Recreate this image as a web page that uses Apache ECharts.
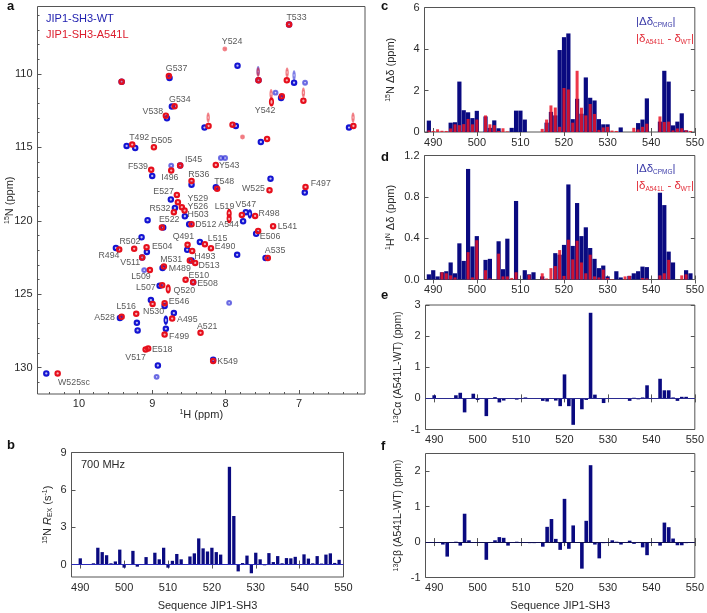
<!DOCTYPE html>
<html>
<head>
<meta charset="utf-8">
<style>html,body{margin:0;padding:0;background:#fff}#c{width:707px;height:613px}</style>
<script src="https://cdn.jsdelivr.net/npm/echarts@6/dist/echarts.min.js"></script>
</head>
<body>
<div id="c"></div>
<script>
// ---- panel a : peak positions [1H ppm, 15N ppm]
const wtPeaks = [[9.418,110.52],[8.765,110.27],[8.733,112.22],[8.80,113.02],[9.35,114.9],[9.233,115.04],[8.62,116.24],[9.001,116.94],
[8.747,118.55],[8.692,119.12],[8.556,119.69],[9.064,119.96],[8.497,120.23],[8.851,120.46],[9.146,121.12],[9.496,121.85],[9.074,122.12],
[9.138,122.5],[8.524,121.98],[8.86,123.21],[8.90,124.43],[9.019,125.4],[8.832,125.81],[8.706,126.29],[9.441,126.63],[9.21,126.95],
[9.2,127.47],[8.815,127.36],[8.924,129.86],[10.445,130.4],[7.135,106.62],[7.838,109.43],[7.552,110.43],[7.067,110.59],[7.244,111.63],
[8.288,113.65],[7.861,113.54],[7.52,114.63],[6.318,113.65],[7.388,117.13],[6.921,118.08],[8.134,117.71],[8.465,117.54],[7.725,119.41],
[7.762,120.03],[7.584,120.89],[8.351,121.44],[7.843,122.32],[7.456,122.53],[8.443,124.18],[8.17,129.47],[8.465,122.71]];
const mutPeaks = [[9.418,110.52],[8.774,110.14],[8.696,112.2],[8.815,112.84],[9.274,114.81],[8.978,114.99],[8.62,116.24],[8.742,116.58],
[9.015,116.53],[8.665,118.24],[8.651,118.73],[8.597,119.07],[8.706,119.41],[8.56,119.3],[8.465,120.23],[8.869,120.46],[9.451,121.96],
[9.247,121.91],[9.078,121.8],[9.138,122.5],[8.519,121.64],[8.488,122.71],[8.842,123.12],[9.033,123.36],[8.546,124.02],[8.865,124.39],
[8.996,125.66],[8.832,125.62],[9.219,126.34],[9.418,126.54],[8.729,126.66],[8.832,127.75],[9.056,128.7],[9.091,128.77],[10.29,130.4],
[7.135,106.62],[7.552,110.43],[7.166,110.43],[7.234,111.52],[6.94,111.82],[8.233,113.54],[7.906,113.45],[7.435,114.42],[6.258,113.54],
[8.134,116.2],[7.402,117.92],[6.911,117.69],[8.116,117.81],[8.465,117.28],[7.779,119.6],[7.598,119.67],[7.353,120.37],[7.557,120.69],
[8.283,121.59],[8.2,121.87],[8.456,122.05],[7.425,122.53],[8.415,122.87],[8.443,124.18],[8.342,127.63],[8.17,129.56]];
const wtLongPeaks = [[8.815,126.77],[7.67,119.53]];
const mutLongPeaks = [[7.952,119.5],[7.952,119.85],[8.783,124.64],[7.375,111.9]];
const wtWeakPeaks = [[8.742,116.24],[8.065,115.72],[8.007,115.72],[6.917,110.59],[7.32,111.27],[7.952,125.59],[8.941,130.63],[9.11,123.36]];
const mutWeakPeaks = [[8.011,108.3],[7.77,114.29]];
const wtFaintLong = [[7.067,110.09],[7.557,109.8]];
const mutFaintLong = [[7.557,109.88],[7.162,109.9],[7.38,111.36],[6.94,111.27],[8.238,112.97],[6.263,112.97]];
const peakLabels = [['T533',7.034,106.17],['Y524',7.912,107.82],['G537',8.669,109.66],['G534',8.624,111.72],['V538',8.992,112.57],
['T492',9.178,114.36],['D505',8.873,114.51],['I545',8.437,115.85],['F539',9.196,116.31],['Y543',7.952,116.24],['I496',8.76,117.06],
['R536',8.365,116.83],['T548',8.02,117.33],['W525',7.62,117.78],['F497',6.703,117.47],['E527',8.846,118.03],['Y529',8.379,118.5],
['Y526',8.379,119.05],['R532',8.896,119.19],['H503',8.375,119.58],['E522',8.77,119.94],['L519',8.015,119.03],['V547',7.725,118.92],
['R498',7.407,119.48],['D512',8.27,120.28],['A544',7.96,120.28],['L541',7.157,120.37],['E506',7.394,121.05],['Q491',8.576,121.08],
['L515',8.11,121.18],['E490',8.007,121.78],['A535',7.326,122.05],['R502',9.305,121.44],['E504',8.865,121.78],['R494',9.591,122.39],
['H493',8.283,122.44],['V511',9.301,122.82],['M531',8.742,122.66],['D513',8.225,123.02],['M489',8.624,123.23],['L509',9.155,123.82],
['E510',8.365,123.75],['E508',8.247,124.25],['L507',9.087,124.57],['Q520',8.563,124.75],['E546',8.634,125.47],['L516',9.356,125.86],
['N530',8.982,126.2],['A528',9.65,126.59],['A495',8.522,126.7],['A521',8.252,127.18],['F499',8.634,127.86],['E518',8.865,128.74],
['V517',9.228,129.29],['K549',7.974,129.6],['W525sc',10.068,130.99],['Y542',7.462,112.52]];
const hTicks = [7,8,9,10];
const nTicks = [110,115,120,125,130];
const hMinor = [6.2,6.4,6.6,6.8,7.2,7.4,7.6,7.8,8.2,8.4,8.6,8.8,9.2,9.4,9.6,9.8,10.2,10.4];
const nMinor = [106,107,108,109,111,112,113,114,116,117,118,119,121,122,123,124,126,127,128,129,131];

// ---- panel b : 15N Rex
const resB = [490,491,493,494,495,496,497,498,499,500,502,503,505,506,507,508,509,510,511,512,513,515,516,517,518,519,520,521,522,524,525,526,527,528,529,530,531,532,533,534,535,536,537,538,539,541,542,543,544,545,546,547,548,549];
const rexB = [0.5,0.03,0.1,1.35,1.0,0.75,0.1,0.25,1.2,-0.25,1.1,-0.17,0.6,0.02,0.95,0.42,1.35,-0.25,0.3,0.85,0.42,0.65,0.9,2.1,1.3,1.05,1.35,1.0,0.8,7.85,3.9,-0.55,0.12,0.72,-0.7,0.95,0.42,-0.06,0.92,0.2,0.68,0.1,0.52,0.5,0.62,0.82,0.48,0.1,0.68,0.08,0.8,0.9,0.13,0.38];

// ---- panel c : 15N shift differences
const resCBlue = [489,494,495,496,497,498,499,500,502,503,504,505,508,509,510,511,516,517,518,519,520,521,522,523,524,525,526,527,528,529,530,533,537,538,539,542,543,544,545,546,547,548];
const cpmgC = [0.55,0.45,0.47,2.43,1.05,0.95,0.67,1.02,0.75,0.2,0.56,0.18,0.2,1.03,1.03,0.6,0.45,0.97,0.8,3.95,4.57,4.75,0.62,1.6,0.88,2.63,1.65,1.52,0.62,0.37,0.37,0.22,0.43,0.6,1.62,0.5,2.95,2.43,0.32,0.5,0.9,0.08];
const resCRed = [489,490,491,492,493,494,495,496,497,498,499,500,502,503,504,505,506,507,515,516,517,518,519,520,521,522,523,524,525,526,527,528,529,530,531,532,536,537,538,539,542,543,544,545,546,547,548,549];
const diffC = [0.08,0.05,0.13,0.06,0.05,0.17,0.37,0.33,0.38,0.63,0.37,0.6,0.8,0.37,0.33,0.05,0.18,0.03,0.15,0.6,1.28,1.18,0.25,2.12,2.05,0.45,2.95,1.17,0.8,1.35,0.87,0.1,0.22,0.25,0.07,0.05,0.2,0.12,0.25,0.4,0.75,0.48,0.5,0.08,0.17,0.18,0.08,0.05];

// ---- panel d : 1HN shift differences
const resDBlue = [489,490,491,492,493,494,495,496,497,498,499,500,502,503,505,506,507,509,511,512,513,515,518,519,520,521,522,523,524,525,526,527,528,529,530,532,533,535,536,537,538,539,542,543,544,545,548,549];
const cpmgD = [0.05,0.09,0.03,0.07,0.08,0.165,0.06,0.35,0.18,1.07,0.32,0.42,0.19,0.2,0.37,0.1,0.395,0.76,0.09,0.05,0.07,0.03,0.255,0.24,0.335,0.92,0.325,0.74,0.42,0.505,0.305,0.2,0.11,0.135,0.03,0.08,0.02,0.035,0.06,0.08,0.125,0.12,0.84,0.72,0.27,0.165,0.09,0.06];
const resDRed = [492,493,494,495,498,499,500,502,503,505,506,507,508,509,512,515,516,517,518,519,520,521,522,523,524,525,526,527,528,529,530,531,534,535,538,539,542,543,544,547,548];
const diffD = [0.07,0.06,0.04,0.02,0.265,0.02,0.38,0.09,0.01,0.25,0.03,0.03,0.015,0.07,0.045,0.06,0.01,0.11,0.13,0.285,0.035,0.385,0.195,0.375,0.165,0.06,0.24,0.03,0.02,0.095,0.015,0.005,0.03,0.035,0.015,0.01,0.04,0.06,0.19,0.04,0.05];

// ---- panel e : 13C alpha
const resE = [490,491,492,493,494,495,496,497,499,500,502,504,505,506,509,511,513,515,516,518,519,520,521,522,524,525,526,527,529,530,531,535,536,537,538,539,542,543,544,545,546,547,548,549];
const caE = [0.1,-0.02,-0.02,0.01,0.01,0.1,0.18,-0.45,0.15,-0.05,-0.57,0.04,-0.13,-0.07,-0.04,0.03,-0.01,-0.08,-0.1,-0.07,-0.25,0.77,-0.25,-0.85,-0.35,-0.05,2.75,0.12,-0.15,-0.01,-0.01,-0.08,0.02,-0.03,0.03,0.42,0.63,0.26,0.26,0.03,-0.08,0.05,0.05,-0.02];

// ---- panel f : 13C beta
const resF = [492,493,495,496,497,498,502,503,504,505,506,507,508,509,510,512,513,515,516,517,518,519,520,521,522,524,525,526,527,528,529,530,531,532,533,535,536,538,539,542,543,544,545,546,547,548,549];
const cbF = [-0.07,-0.41,0.01,-0.1,0.8,0.05,-0.5,-0.02,0.05,0.14,0.12,-0.1,-0.02,0.01,-0.02,-0.03,-0.03,-0.13,0.43,0.65,0.09,-0.22,1.22,-0.19,0.47,-0.75,0.6,2.17,-0.07,-0.46,-0.03,-0.02,0.05,0.01,-0.07,0.04,-0.05,-0.15,-0.37,-0.1,0.55,0.42,0.1,-0.09,-0.09,-0.03,-0.01];

const seqTicks = [490,500,510,520,530,540,550];
const ticksB = [0,3,6,9], ticksC = [0,2,4,6], ticksD = [0,0.4,0.8,1.2], ticksE = [-1,0,1,2,3], ticksF = [-1,0,1,2];

// ---- styling and assembly
const FONT = '"Liberation Sans", Arial, sans-serif';
const NAVY = '#0a0a80', BORDER = '#555', TXT = '#2a2a2a';
const BLUE = '#1414d2', RED = '#e60f1c';
const BLUE_FILL = 'rgba(40,40,220,0.3)', RED_FILL = 'rgba(235,30,40,0.35)';
const zip = (a, b) => a.map((v, i) => [v, b[i]]);

const richName = {
  sup: {fontSize: 7, lineHeight: 12, verticalAlign: 'top', fontFamily: FONT, color: TXT, padding: [0,0,3,0]},
  sub: {fontSize: 7, lineHeight: 12, verticalAlign: 'bottom', fontFamily: FONT, color: TXT, padding: [3,0,0,0]},
  it: {fontSize: 11, lineHeight: 12, fontStyle: 'italic', fontFamily: FONT, color: TXT},
  n: {fontSize: 11, lineHeight: 12, fontFamily: FONT, color: TXT},
  s: {fontSize: 10.5, lineHeight: 12, fontFamily: FONT, color: TXT}
};

const grids = [], xAxes = [], yAxes = [], series = [];

function addScatter(name, data, color, fill, size, opacity) {
  series.push({
    name, type: 'scatter', xAxisIndex: 0, yAxisIndex: 0, data, symbol: 'circle', symbolSize: size, silent: true,
    itemStyle: {color: fill, borderColor: color, borderWidth: 2.1, opacity}
  });
}

// panel a
grids.push({left: 37.5, top: 6.5, width: 327.5, height: 387.5, show: true, borderColor: BORDER, borderWidth: 1, backgroundColor: 'transparent'});
const xA = {type: 'value', gridIndex: 0, inverse: true, min: 6.1, max: 10.565, position: 'bottom', splitLine: {show: false}, axisLine: {show: false}};
const yA = {type: 'value', gridIndex: 0, inverse: true, min: 105.4, max: 131.8, position: 'left', splitLine: {show: false}, axisLine: {show: false}};
xAxes.push(Object.assign({}, xA, {
  name: '{sup|1}{n|H (ppm)}', nameLocation: 'middle', nameGap: 15, nameMoveOverlap: false, nameTextStyle: {rich: richName},
  axisTick: {show: true, inside: true, length: 4, lineStyle: {color: BORDER}, customValues: hTicks},
  axisLabel: {show: true, margin: 4, fontSize: 11, color: TXT, fontFamily: FONT, customValues: hTicks}
}));
xAxes.push(Object.assign({}, xA, {
  axisTick: {show: true, inside: true, length: 2, lineStyle: {color: BORDER}, customValues: hMinor}, axisLabel: {show: false}
}));
yAxes.push(Object.assign({}, yA, {
  name: '{sup|15}{n|N (ppm)}', nameLocation: 'middle', nameGap: 22, nameMoveOverlap: false, nameRotate: 90, nameTextStyle: {rich: richName},
  axisTick: {show: true, inside: true, length: 4, lineStyle: {color: BORDER}, customValues: nTicks},
  axisLabel: {show: true, margin: 5, fontSize: 11, color: TXT, fontFamily: FONT, customValues: nTicks}
}));
yAxes.push(Object.assign({}, yA, {
  axisTick: {show: true, inside: true, length: 2, lineStyle: {color: BORDER}, customValues: nMinor}, axisLabel: {show: false}
}));
addScatter('WT faint long', wtFaintLong, BLUE, BLUE_FILL, [2.2, 6.5], 0.5);
addScatter('A541L faint long', mutFaintLong, RED, RED_FILL, [2.2, 6.5], 0.5);
addScatter('WT weak', wtWeakPeaks, BLUE, BLUE_FILL, 3.8, 0.6);
addScatter('A541L weak', mutWeakPeaks, RED, RED_FILL, 2.8, 0.5);
addScatter('WT', wtPeaks, BLUE, BLUE_FILL, 4.4, 1);
addScatter('WT long', wtLongPeaks, BLUE, BLUE_FILL, [3.2, 6.5], 1);
addScatter('A541L', mutPeaks, RED, RED_FILL, 4.4, 1);
addScatter('A541L long', mutLongPeaks, RED, RED_FILL, [3.6, 6.5], 1);
series.push({
  type: 'scatter', xAxisIndex: 0, yAxisIndex: 0, symbolSize: 0, silent: true,
  data: peakLabels.map(l => ({value: [l[1], l[2]], name: l[0]})),
  label: {show: true, position: 'inside', formatter: p => p.name, fontSize: 8.8, color: '#2e2e2e', fontFamily: FONT}
});

function barPanel(o) {
  const g = grids.length;
  grids.push({left: o.left, top: o.top, width: o.width, height: o.height, show: true, borderColor: BORDER, borderWidth: 1, backgroundColor: 'transparent'});
  const tick = vals => ({show: true, inside: true, length: 4, lineStyle: {color: BORDER}, customValues: vals});
  const xi = xAxes.length, yi = yAxes.length;
  const xb = {type: 'value', gridIndex: g, min: 488, max: 550, splitLine: {show: false}, axisLine: {show: false}};
  const yb = {type: 'value', gridIndex: g, min: o.ymin, max: o.ymax, splitLine: {show: false}, axisLine: {show: false}};
  const x0 = Object.assign({}, xb, {position: 'bottom', axisTick: tick(seqTicks),
    axisLabel: {show: true, margin: 5, fontSize: 11, color: TXT, fontFamily: FONT, customValues: seqTicks}});
  if (o.xName) Object.assign(x0, {name: o.xName, nameLocation: 'middle', nameGap: 23, nameMoveOverlap: false, nameTextStyle: {fontSize: 11, color: TXT, fontFamily: FONT}});
  xAxes.push(x0);
  xAxes.push(Object.assign({}, xb, {position: 'top', axisTick: tick(seqTicks), axisLabel: {show: false}}));
  yAxes.push(Object.assign({}, yb, {position: 'left', axisTick: tick(o.ticks),
    name: o.yName, nameLocation: 'middle', nameGap: o.nameGap, nameMoveOverlap: false, nameRotate: 90, nameTextStyle: {rich: richName},
    axisLabel: {show: true, margin: 5, fontSize: 11, color: TXT, fontFamily: FONT, customValues: o.ticks, formatter: o.fmt || (v => String(v))}}));
  yAxes.push(Object.assign({}, yb, {position: 'right', axisTick: tick(o.ticks), axisLabel: {show: false}}));
  o.sets.forEach((s, k) => {
    series.push({
      type: 'bar', xAxisIndex: xi + k, yAxisIndex: yi + k, data: s.data, barWidth: s.width, silent: true,
      itemStyle: {color: s.color},
      markLine: s.zero ? {silent: true, symbol: 'none', label: {show: false}, animation: false,
        lineStyle: {type: 'solid', width: 1, color: s.zero}, data: [{yAxis: 0}]} : undefined
    });
  });
}

barPanel({left: 71.5, top: 452.5, width: 272, height: 124.5, ymin: -1, ymax: 9, ticks: ticksB, nameGap: 18,
  yName: '{sup|15}{n|N }{it|R}{sub|EX}{n| (s}{sup|-1}{n|)}', xName: 'Sequence JIP1-SH3',
  sets: [{data: zip(resB, rexB), width: 3.3, color: NAVY, zero: '#2a2ab8'}]});
barPanel({left: 424.5, top: 7.5, width: 271, height: 124.5, ymin: 0, ymax: 6, ticks: ticksC, nameGap: 28,
  yName: '{sup|15}{n|N Δδ (ppm)}',
  sets: [{data: zip(resCBlue, cpmgC), width: 4.2, color: NAVY},
         {data: zip(resCRed, diffC), width: 3, color: 'rgba(235,20,40,0.85)'}]});
barPanel({left: 424.5, top: 155.5, width: 271, height: 124, ymin: 0, ymax: 1.2, ticks: ticksD, nameGap: 28,
  yName: '{sup|1}{n|H}{sup|N}{n| Δδ (ppm)}', fmt: v => v.toFixed(1),
  sets: [{data: zip(resDBlue, cpmgD), width: 4.2, color: NAVY},
         {data: zip(resDRed, diffD), width: 3, color: 'rgba(235,20,40,0.85)'}]});
barPanel({left: 425.5, top: 305, width: 271, height: 124.5, ymin: -1, ymax: 3, ticks: ticksE, nameGap: 21,
  yName: '{sup|13}{s|Cα (A541L-WT) (ppm)}',
  sets: [{data: zip(resE, caE), width: 3.6, color: NAVY, zero: '#2a2a90'}]});
barPanel({left: 425.5, top: 453.5, width: 271, height: 124, ymin: -1, ymax: 2.5, ticks: ticksF, nameGap: 21,
  yName: '{sup|13}{s|Cβ (A541L-WT) (ppm)}', xName: 'Sequence JIP1-SH3',
  sets: [{data: zip(resF, cbF), width: 3.6, color: NAVY, zero: '#101050'}]});

const letter = (t, x, y) => ({type: 'text', x, y, style: {text: t, font: 'bold 13px ' + FONT, fill: '#111', textVerticalAlign: 'middle'}});
const legendRich = (color) => ({
  m: {fontSize: 11.5, fontFamily: FONT, fill: color, color, lineHeight: 14},
  b: {fontSize: 6.5, fontFamily: FONT, fill: color, color, lineHeight: 14, verticalAlign: 'bottom'}
});
const legendText = (t, x, y, color) => ({type: 'text', x, y, style: {text: t, fill: color, textVerticalAlign: 'middle', rich: legendRich(color)}});
const LBLUE = '#3b3ba8', LRED = '#e22c38';

const option = {
  animation: false,
  backgroundColor: '#fff',
  textStyle: {fontFamily: FONT},
  grid: grids, xAxis: xAxes, yAxis: yAxes, series,
  graphic: [
    letter('a', 7, 6), letter('b', 7, 445), letter('c', 381, 6), letter('d', 381, 157), letter('e', 381, 295), letter('f', 381, 446),
    {type: 'text', x: 46, y: 19, style: {text: 'JIP1-SH3-WT', font: '11px ' + FONT, fill: '#2222b0', textVerticalAlign: 'middle'}},
    {type: 'text', x: 46, y: 35, style: {text: 'JIP1-SH3-A541L', font: '11px ' + FONT, fill: '#dc1c2c', textVerticalAlign: 'middle'}},
    {type: 'text', x: 81, y: 465, style: {text: '700 MHz', font: '11px ' + FONT, fill: TXT, textVerticalAlign: 'middle'}},
    legendText('{m||Δδ}{b|CPMG}{m||}', 636, 22, LBLUE),
    legendText('{m||δ}{b|A541L}{m| - δ}{b|WT}{m||}', 636, 39, LRED),
    legendText('{m||Δδ}{b|CPMG}{m||}', 636, 169, LBLUE),
    legendText('{m||δ}{b|A541L}{m| - δ}{b|WT}{m||}', 636, 186, LRED)
  ]
};
const chart = echarts.init(document.getElementById('c'), null, {renderer: 'canvas'});
chart.setOption(option);
</script>
</body>
</html>
